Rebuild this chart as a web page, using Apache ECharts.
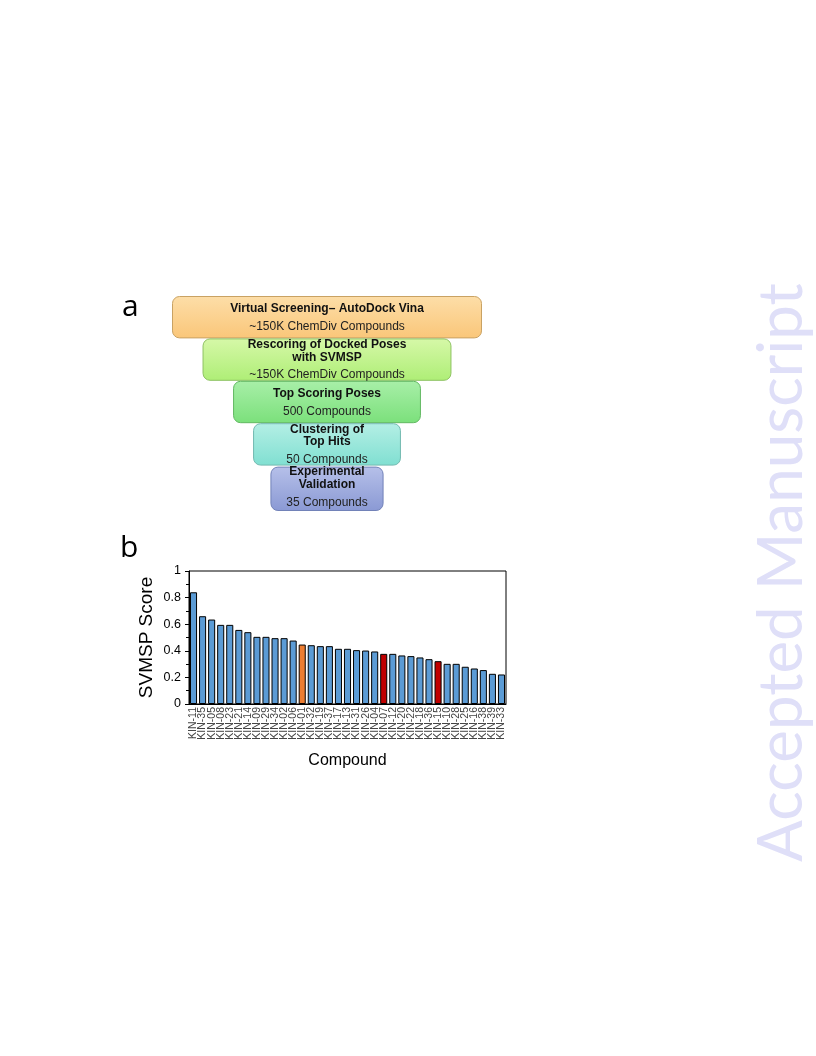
<!DOCTYPE html>
<html><head><meta charset="utf-8">
<script src="https://cdn.jsdelivr.net/npm/echarts@6/dist/echarts.min.js"></script>
<style>html,body{margin:0;padding:0;background:#fff}#c{width:816px;height:1056px}</style>
</head><body><div id="c"></div>
<script>
// ---- data ----
const compounds = ['KIN-11','KIN-35','KIN-05','KIN-08','KIN-23','KIN-21','KIN-14','KIN-09','KIN-29','KIN-34','KIN-02','KIN-06','KIN-01','KIN-32','KIN-19','KIN-37','KIN-17','KIN-13','KIN-31','KIN-26','KIN-04','KIN-07','KIN-12','KIN-20','KIN-22','KIN-18','KIN-36','KIN-15','KIN-10','KIN-28','KIN-25','KIN-16','KIN-38','KIN-39','KIN-33'];
const scores = [0.84,0.66,0.635,0.595,0.595,0.557,0.54,0.505,0.505,0.495,0.495,0.477,0.447,0.442,0.435,0.435,0.415,0.415,0.405,0.402,0.395,0.377,0.377,0.365,0.36,0.35,0.337,0.322,0.302,0.302,0.28,0.267,0.255,0.227,0.222];
const orangeCompounds = ['KIN-01'];
const redCompounds = ['KIN-07','KIN-15'];
const yTicks = [0,0.2,0.4,0.6,0.8,1];

const stageTitles = ['Virtual Screening\u2013 AutoDock Vina','Rescoring of Docked Poses\nwith SVMSP','Top Scoring Poses','Clustering of\nTop Hits','Experimental\nValidation'];
const stageSubtitles = ['~150K ChemDiv Compounds','~150K ChemDiv Compounds','500 Compounds','50 Compounds','35 Compounds'];
const stageWidths = [100,80.3,60.6,47.7,36.5];
const stageColors = [['#FDDEA8','#FAC679','#C9A263'],['#D6F8A8','#AEEE76','#8EC262'],['#A8EFA8','#7BE07B','#62B862'],['#B4EFE5','#80DFD1','#72B9B0'],['#B6C0E9','#8A99D4','#7282B8']];

const chart = echarts.init(document.getElementById('c'));
const font = 'Liberation Sans, Arial, sans-serif';

const barData = scores.map((v,i)=>{
  let c = '#5B9BD5';
  if (orangeCompounds.includes(compounds[i])) c = '#ED7D31';
  if (redCompounds.includes(compounds[i])) c = '#C00000';
  return {value:v, itemStyle:{color:c}};
});

const funnelData = stageWidths.map((w,i)=>[w,i]);

chart.setOption({
  animation:false,
  textStyle:{fontFamily:font},
  graphic:[
    {type:'text', left:122, top:292, style:{text:'a', font:'30px "Open Sans", sans-serif', fill:'#000'}},
    {type:'text', left:120, top:533, style:{text:'b', font:'30px "Open Sans", sans-serif', fill:'#000'}},
    {type:'text', x:813, y:862, rotation:Math.PI/2, style:{text:'Accepted Manuscript', font:'62px Lato, sans-serif', fill:'#DFDFF8', textVerticalAlign:'bottom'}}
  ],
  grid:[
    {left:172, top:296, width:310, height:212},
    {left:189, top:571, width:317, height:133, show:true, borderColor:'#000', borderWidth:1}
  ],
  xAxis:[
    {gridIndex:0, type:'value', min:-50, max:50, show:false},
    {gridIndex:1, type:'category', data:compounds, name:'Compound', nameLocation:'middle', nameGap:49,
     nameTextStyle:{fontSize:16, color:'#000', fontFamily:font},
     axisLine:{lineStyle:{color:'#000'}}, axisTick:{show:false},
     axisLabel:{rotate:90, fontSize:10.5, color:'#444', interval:0, margin:3, fontFamily:font}}
  ],
  yAxis:[
    {gridIndex:0, type:'category', data:stageTitles.map((t,i)=>i), inverse:true, show:false},
    {gridIndex:1, type:'value', min:0, max:1, interval:0.2, name:'SVMSP Score', nameLocation:'middle', nameGap:33,
     nameTextStyle:{fontSize:19, color:'#000', fontFamily:font},
     axisLine:{show:true, lineStyle:{color:'#000'}},
     axisTick:{show:true, length:4, lineStyle:{color:'#000'}},
     minorTick:{show:true, splitNumber:2, length:3, lineStyle:{color:'#000'}},
     splitLine:{show:false},
     axisLabel:{fontSize:12.5, color:'#000', margin:8, fontFamily:font,
       formatter:v=>{const t=yTicks.find(x=>Math.abs(x-v)<1e-6); return t===undefined?'':String(t);}}}
  ],
  series:[
    {type:'custom', xAxisIndex:0, yAxisIndex:0, data:funnelData,
     renderItem:(params, api)=>{
       const w = api.value(0), i = api.value(1);
       const c = api.coord([0, i]);
       const sz = api.size([w, 1]);
       const x = c[0]-sz[0]/2, y = c[1]-sz[1]/2 + (i===4?1:0);
       const h = sz[1] + (i===4?2:0);
       const col = stageColors[i];
       return {type:'group', children:[
         {type:'rect', shape:{x:x+0.5, y:y+0.5, width:sz[0]-1, height:h-1, r:7},
          style:{fill:new echarts.graphic.LinearGradient(0,0,0,1,[{offset:0,color:col[0]},{offset:1,color:col[1]}]), stroke:col[2], lineWidth:1}},
         {type:'text', x:c[0], y:c[1]+3, style:{
            text:'{t|'+stageTitles[i].split('\n').join('}\n{t|')+'}\n{s|'+stageSubtitles[i]+'}',
            align:'center', verticalAlign:'middle',
            rich:{t:{fontSize:12, fontWeight:'bold', fontFamily:font, lineHeight:12.5, fill:'#111', color:'#111'},
                  s:{fontSize:12, fontFamily:font, lineHeight:23, fill:'#222', color:'#222'}}}}
       ]};
     }},
    {type:'bar', xAxisIndex:1, yAxisIndex:1, data:barData, barCategoryGap:'22%',
     itemStyle:{borderColor:'#000', borderWidth:1}}
  ]
});
</script></body></html>
